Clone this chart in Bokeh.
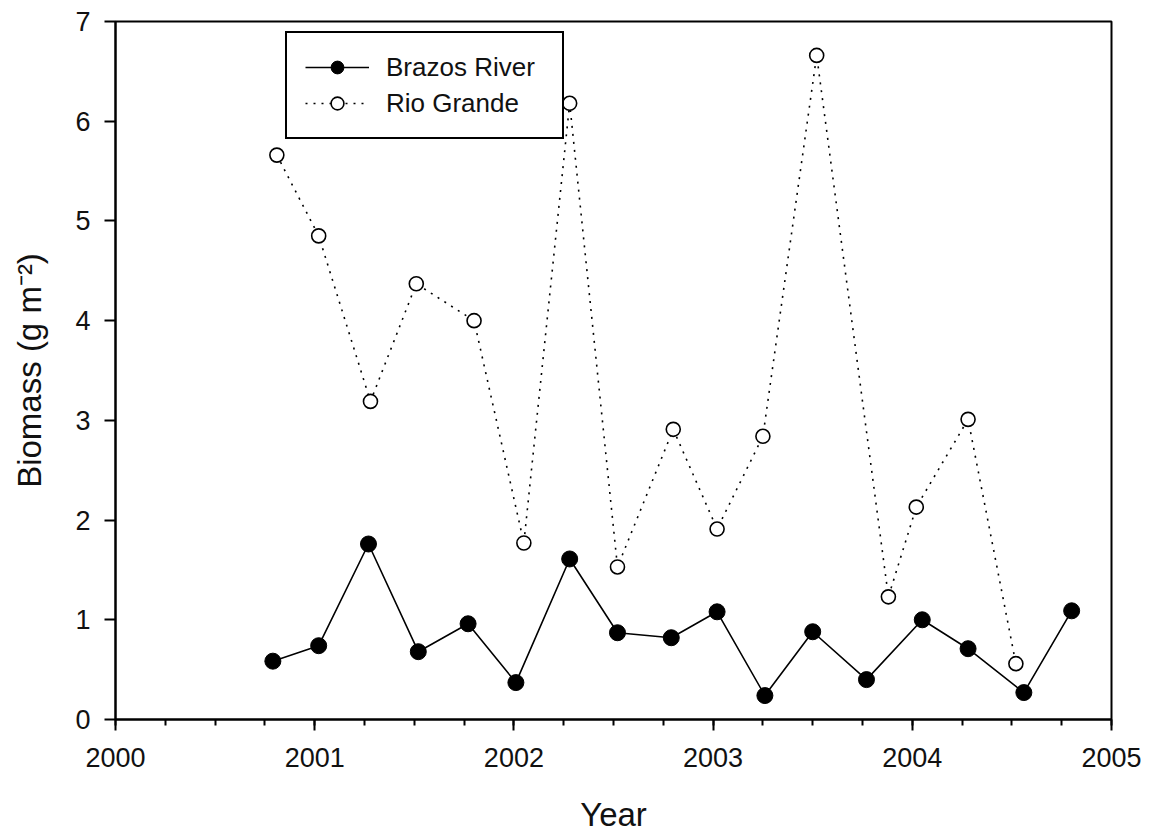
from bokeh.plotting import figure
from bokeh.models import Range1d, FixedTicker, Legend, LegendItem
from bokeh.embed import file_html
from bokeh.resources import INLINE

# ---- data ----
brazos_x = [2000.79, 2001.02, 2001.27, 2001.52, 2001.77, 2002.01, 2002.28, 2002.52,
            2002.79, 2003.02, 2003.26, 2003.50, 2003.77, 2004.05, 2004.28, 2004.56, 2004.80]
brazos_y = [0.585, 0.74, 1.76, 0.68, 0.96, 0.37, 1.61, 0.87,
            0.82, 1.08, 0.24, 0.88, 0.40, 1.00, 0.71, 0.27, 1.09]
rio_x = [2000.81, 2001.02, 2001.28, 2001.51, 2001.80, 2002.05, 2002.28, 2002.52,
         2002.80, 2003.02, 2003.25, 2003.52, 2003.88, 2004.02, 2004.28, 2004.52]
rio_y = [5.66, 4.85, 3.19, 4.37, 4.00, 1.77, 6.18, 1.53,
         2.91, 1.91, 2.84, 6.66, 1.23, 2.13, 3.01, 0.56]
x_ticks = [2000, 2001, 2002, 2003, 2004, 2005]
x_minor = [2000 + q / 4 for q in range(0, 21)]
y_ticks = [0, 1, 2, 3, 4, 5, 6, 7]
series_names = ["Brazos River", "Rio Grande"]
x_title = "Year"
y_title = "Biomass (g m\u207b\u00b2)"

FONT = "Liberation Sans"

W, H = 1153, 835
p = figure(width=W, height=H, output_backend="svg", toolbar_location=None,
           x_range=Range1d(2000, 2005), y_range=Range1d(0, 7),
           min_border_left=115, min_border_right=42, min_border_top=21,
           min_border_bottom=116)
p.grid.visible = False
p.background_fill_color = "white"
p.border_fill_color = "white"
p.outline_line_color = "black"
p.outline_line_width = 2
p.outline_line_alpha = 1.0

xa = p.xaxis[0]
xa.ticker = FixedTicker(ticks=x_ticks, minor_ticks=x_minor)
ya = p.yaxis[0]
ya.ticker = FixedTicker(ticks=y_ticks, minor_ticks=[])
for ax in (xa, ya):
    ax.axis_line_color = "black"
    ax.axis_line_width = 2
    ax.major_tick_line_color = "black"
    ax.major_tick_line_width = 2
    ax.major_tick_out = 11
    ax.major_tick_in = 0
    ax.minor_tick_line_color = "black"
    ax.minor_tick_line_width = 2
    ax.minor_tick_out = 6
    ax.minor_tick_in = 0
    ax.major_label_text_font = FONT
    ax.major_label_text_font_size = "27px"
    ax.major_label_text_color = "#111111"
    ax.axis_label_text_font = FONT
    ax.axis_label_text_font_size = "33px"
    ax.axis_label_text_font_style = "normal"
    ax.axis_label_text_color = "#111111"
xa.major_label_standoff = 17
ya.major_label_standoff = 14
ya.minor_tick_out = 0

xa.axis_label = x_title
xa.axis_label_standoff = 26
ya.axis_label = y_title
ya.axis_label_standoff = 24

# ---- series ----
l1 = p.line(brazos_x, brazos_y, line_color="black", line_width=1.6)
s1 = p.scatter(brazos_x, brazos_y, marker="circle", size=16,
               fill_color="black", line_color="black", line_width=1)
l2 = p.line(rio_x, rio_y, line_color="black", line_width=1.6, line_dash="2 6")
s2 = p.scatter(rio_x, rio_y, marker="circle", size=14,
               fill_color="white", line_color="black", line_width=1.6)

legend = Legend(items=[LegendItem(label=series_names[0], renderers=[l1, s1]),
                       LegendItem(label=series_names[1], renderers=[l2, s2])],
                location=(170, 580), orientation="vertical",
                padding=18, spacing=4, margin=0,
                glyph_width=64, glyph_height=32, label_height=32,
                label_width=158, label_standoff=17,
                label_text_font=FONT, label_text_font_size="26px",
                label_text_color="#111111",
                border_line_color="black", border_line_width=2,
                border_line_alpha=1.0,
                background_fill_color="white", background_fill_alpha=1.0)
p.add_layout(legend, "center")

open("out.html", "w").write(file_html(p, INLINE))
